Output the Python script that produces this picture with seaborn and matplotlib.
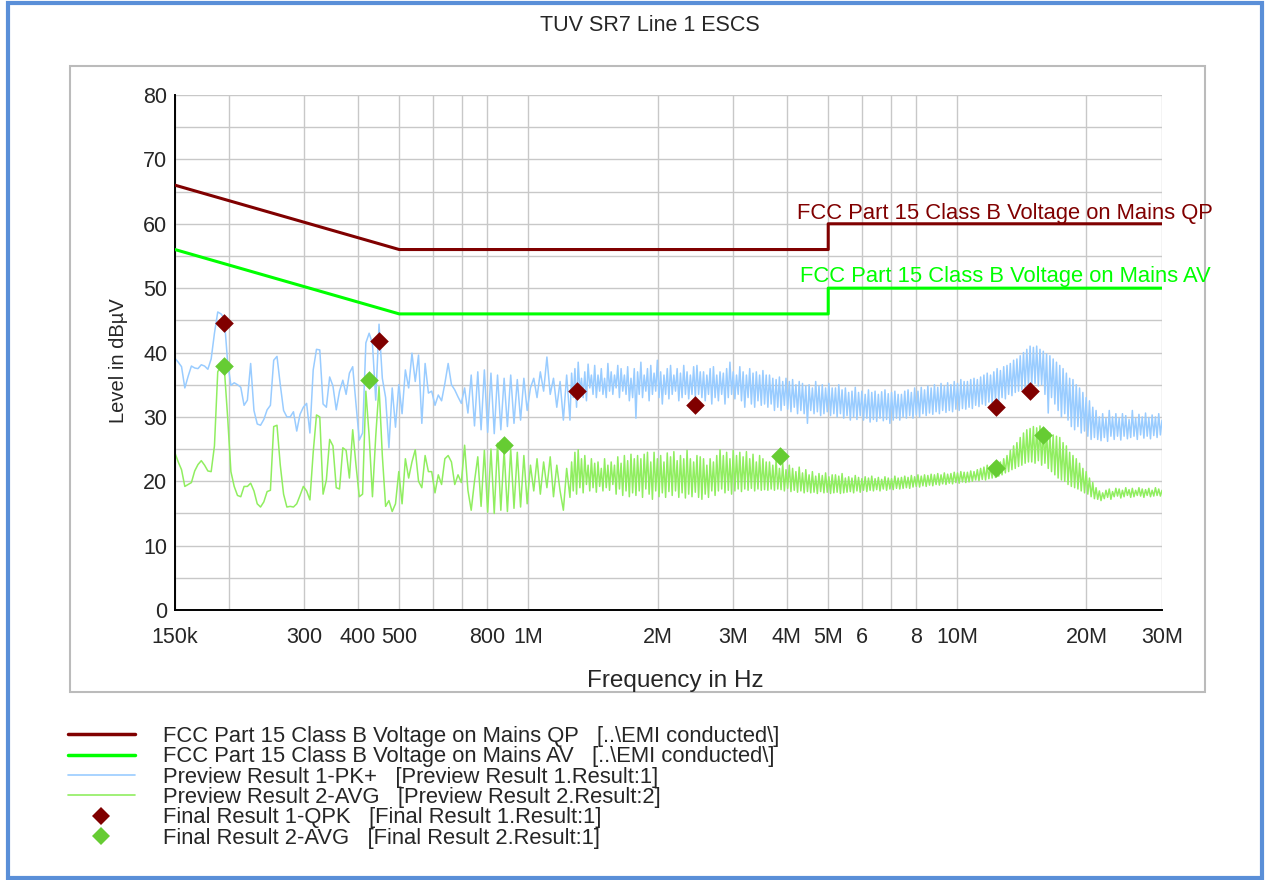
import numpy as np
import matplotlib
matplotlib.use("Agg")
import matplotlib.pyplot as plt
from matplotlib.lines import Line2D
from matplotlib.patches import Rectangle
import seaborn as sns

# limit lines (FCC Part 15 Class B, conducted)
limit_freq = [150e3, 500e3, 5e6, 5e6, 30e6]
limit_qp = [66, 56, 56, 60, 60]
limit_av = [56, 46, 46, 50, 50]

# final measurements
qpk_freq = [195e3, 448e3, 1.30e6, 2.44e6, 12.3e6, 14.8e6]
qpk_level = [44.6, 41.8, 34.1, 31.8, 31.6, 34.1]
avg_freq = [195e3, 424e3, 875e3, 3.85e6, 12.3e6, 15.8e6]
avg_level = [37.9, 35.7, 25.6, 23.9, 22.1, 27.2]

# preview scans: coarse sweep 150 kHz..1.25 MHz (120 pts), fine sweep 1.25..30 MHz (360 pts)
sweep_hz = np.concatenate([np.geomspace(150e3, 1.25e6, 120, endpoint=False),
                           np.geomspace(1.25e6, 30e6, 360)])

pk_low = [
    39.1, 38.5, 37.8, 34.5, 36.3, 37.9, 37.6, 37.5, 38.1, 37.9, 37.4, 39.0, 43.0, 46.3, 46.0, 45.3, 38.5, 34.9, 35.3, 35.0,
    34.6, 31.8, 32.6, 38.3, 31.0, 28.9, 28.7, 29.6, 31.1, 31.8, 38.8, 39.4, 35.0, 31.0, 30.0, 30.0, 30.8, 27.8, 30.4, 31.5,
    32.1, 27.5, 37.3, 40.5, 40.4, 32.0, 31.5, 36.2, 34.8, 31.1, 34.0, 35.7, 33.5, 36.8, 37.8, 32.0, 26.4, 27.5, 41.5, 43.0,
    41.4, 32.6, 44.4, 36.0, 33.0, 25.2, 34.5, 28.4, 35.0, 30.5, 37.3, 34.5, 39.9, 35.5, 39.6, 29.0, 38.3, 33.7, 34.0, 31.8,
    33.4, 32.5, 35.2, 38.3, 35.0, 34.2, 33.1, 32.1, 34.5, 30.6, 36.5, 28.6, 37.0, 28.0, 37.3, 27.6, 36.8, 27.4, 36.5, 28.0,
    36.0, 28.5, 36.5, 29.0, 35.8, 29.5, 36.0, 31.0, 34.5, 36.0, 33.0, 37.0, 34.0, 39.3, 33.5, 36.0, 31.5, 35.5, 29.5, 36.5,
]
pk_high = [
    29.5, 36.8, 33.0, 37.5, 31.5, 38.5, 34.0, 36.0, 33.0, 37.0, 32.5, 38.2, 34.5, 36.5, 33.5, 38.0, 33.0, 36.5, 34.0, 37.5,
    33.5, 36.0, 33.0, 38.3, 34.0, 37.0, 33.5, 36.5, 34.5, 38.0, 33.0, 37.5, 34.0, 36.5, 33.5, 37.8, 32.5, 36.0, 33.0, 37.5,
    29.8, 37.0, 33.5, 38.5, 33.0, 36.5, 34.0, 37.5, 32.5, 38.0, 33.5, 36.8, 34.0, 38.8, 33.0, 37.0, 32.0, 36.5, 33.5, 37.5,
    32.8, 38.0, 33.5, 36.5, 34.0, 37.5, 32.5, 36.8, 33.0, 38.0, 33.5, 37.0, 32.8, 36.5, 33.5, 37.8, 33.0, 38.0, 33.5, 37.0,
    33.0, 37.0, 32.5, 36.5, 33.5, 37.5, 32.0, 37.8, 33.0, 36.5, 32.5, 37.0, 33.5, 36.8, 32.0, 37.5, 33.0, 38.5, 33.5, 37.0,
    32.8, 36.5, 33.5, 37.8, 32.5, 37.0, 31.5, 36.5, 33.0, 37.5, 32.0, 36.8, 31.5, 37.0, 32.5, 36.5, 31.8, 37.2, 32.0, 36.5,
    31.5, 36.5, 32.0, 36.0, 31.0, 35.8, 31.5, 36.2, 31.0, 35.5, 31.8, 36.0, 31.2, 35.5, 30.8, 35.8, 31.5, 35.0, 30.5, 35.5,
    31.0, 35.2, 30.5, 34.8, 29.0, 35.0, 31.0, 34.5, 30.5, 35.5, 30.8, 34.8, 30.2, 35.0, 30.5, 34.5, 30.8, 35.2, 30.2, 34.5,
    30.5, 34.5, 30.0, 35.0, 30.5, 34.2, 29.8, 34.5, 30.2, 33.8, 29.5, 34.0, 30.0, 34.6, 29.6, 33.8, 30.2, 34.0, 29.5, 33.5,
    29.8, 34.2, 29.2, 33.8, 29.6, 34.0, 29.3, 33.5, 29.8, 33.9, 29.4, 34.2, 29.6, 33.6, 29.0, 33.8, 29.5, 34.0, 29.8, 33.5,
    29.5, 33.5, 30.0, 34.0, 29.8, 34.2, 30.2, 33.8, 29.8, 34.5, 30.3, 34.0, 30.0, 34.6, 30.5, 34.2, 30.2, 34.8, 30.6, 34.5,
    30.4, 35.0, 30.8, 34.6, 30.5, 35.2, 31.0, 34.8, 30.7, 35.3, 31.0, 35.0, 30.8, 35.5, 31.2, 35.2, 31.0, 35.8, 31.3, 35.5,
    31.2, 35.5, 31.5, 35.8, 31.3, 36.0, 31.8, 35.8, 31.6, 36.2, 32.0, 36.5, 31.8, 36.8, 32.3, 36.5, 32.2, 37.0, 32.6, 37.5,
    32.5, 37.2, 33.0, 37.8, 32.8, 38.0, 33.5, 38.3, 33.3, 38.8, 33.8, 39.0, 34.0, 39.5, 34.2, 40.0, 34.5, 40.5, 34.8, 41.0,
    35.0, 40.8, 35.2, 41.0, 34.8, 40.5, 35.0, 40.2, 33.5, 39.8, 30.6, 39.5, 33.0, 39.0, 32.0, 38.5, 31.0, 38.0, 30.0, 37.5,
    30.5, 36.8, 29.5, 36.0, 28.5, 35.8, 28.0, 35.0, 28.5, 34.5, 27.5, 33.8, 27.8, 33.0, 27.0, 32.5, 26.5, 31.5, 26.8, 31.0,
    26.5, 30.0, 26.3, 30.5, 26.8, 29.8, 26.2, 31.0, 27.0, 30.0, 26.5, 30.5, 27.0, 29.8, 26.4, 30.5, 27.0, 30.2, 26.6, 29.6,
    26.8, 31.0, 27.0, 29.8, 26.5, 30.4, 27.2, 30.0, 26.7, 30.6, 27.0, 29.9, 26.6, 30.3, 27.1, 30.0, 26.8, 30.5, 27.2, 29.5,
]
avg_low = [
    24.4, 23.0, 21.8, 19.2, 19.5, 19.8, 21.6, 22.6, 23.2, 22.5, 21.6, 21.5, 25.5, 37.0, 38.0, 37.5, 30.0, 21.5, 19.2, 17.8,
    17.6, 19.2, 19.2, 19.7, 18.5, 16.5, 16.0, 16.8, 18.4, 18.6, 28.5, 28.7, 22.5, 18.0, 16.0, 16.1, 16.0, 16.5, 17.8, 19.2,
    18.5, 17.1, 24.5, 30.3, 30.0, 18.0, 20.2, 26.5, 25.5, 19.0, 18.8, 25.2, 24.8, 20.5, 28.0, 22.5, 17.6, 18.0, 34.0, 27.0,
    17.6, 27.0, 34.7, 24.0, 16.1, 17.0, 15.3, 16.5, 21.5, 16.5, 23.5, 20.5, 23.0, 24.9, 20.0, 19.0, 24.0, 21.5, 21.5, 18.2,
    21.0, 19.5, 23.5, 24.0, 23.0, 19.5, 21.0, 19.8, 25.6, 18.6, 15.5, 20.0, 23.8, 16.1, 24.8, 15.2, 25.0, 15.0, 25.9, 15.5,
    24.8, 15.3, 25.0, 15.8, 24.5, 16.0, 24.0, 16.5, 22.5, 18.5, 23.5, 18.0, 23.0, 19.0, 23.8, 17.6, 22.5, 18.5, 15.5, 22.0,
]
avg_high = [
    17.5, 23.0, 18.5, 24.5, 18.0, 24.9, 19.0, 23.5, 18.2, 24.0, 19.5, 22.5, 18.5, 23.5, 19.0, 22.8, 18.3, 23.0, 19.2, 22.0,
    18.5, 23.5, 19.0, 22.5, 18.6, 23.0, 19.5, 22.5, 18.0, 23.8, 18.8, 22.8, 17.8, 24.0, 18.5, 23.2, 17.6, 24.2, 18.2, 23.5,
    17.8, 24.0, 18.5, 23.5, 17.5, 24.2, 18.8, 24.5, 18.0, 23.0, 17.2, 24.5, 18.5, 23.5, 17.6, 24.0, 18.2, 23.0, 17.5, 24.4,
    18.4, 23.8, 17.8, 24.6, 18.5, 23.2, 17.5, 24.0, 18.2, 23.5, 17.4, 24.8, 18.0, 23.5, 17.6, 23.0, 18.3, 24.0, 17.5, 23.8,
    17.2, 23.5, 18.0, 22.5, 17.5, 23.5, 18.5, 23.0, 17.8, 24.0, 18.5, 24.9, 18.8, 24.0, 18.2, 24.5, 18.6, 23.5, 18.0, 24.8,
    18.5, 24.0, 18.8, 24.5, 18.4, 23.8, 18.8, 24.6, 18.6, 23.5, 18.9, 24.2, 18.5, 23.0, 18.8, 24.0, 18.6, 23.5, 18.7, 23.0,
    18.6, 23.0, 18.8, 22.5, 18.6, 23.3, 18.8, 22.0, 18.7, 22.8, 18.5, 21.8, 18.9, 22.5, 18.4, 22.0, 18.6, 21.5, 18.3, 22.2,
    18.5, 21.3, 18.2, 21.8, 18.4, 21.0, 18.2, 21.5, 18.3, 20.8, 18.1, 21.2, 18.4, 20.9, 18.2, 21.3, 18.3, 20.7, 18.1, 21.0,
    18.2, 21.0, 18.3, 20.8, 18.1, 21.2, 18.2, 20.5, 18.3, 20.7, 18.4, 20.5, 18.2, 20.9, 18.5, 20.6, 18.3, 20.4, 18.6, 20.7,
    18.4, 20.5, 18.6, 20.8, 18.5, 20.4, 18.7, 20.6, 18.5, 20.3, 18.8, 20.7, 18.6, 20.5, 18.8, 20.4, 18.7, 20.8, 18.9, 20.5,
    18.8, 20.6, 18.9, 20.8, 19.0, 20.6, 18.9, 20.9, 19.1, 20.7, 19.2, 21.0, 19.1, 20.8, 19.3, 21.0, 19.2, 20.9, 19.4, 21.1,
    19.3, 21.0, 19.5, 21.2, 19.4, 21.0, 19.6, 21.3, 19.5, 21.1, 19.7, 21.2, 19.6, 21.4, 19.8, 21.3, 19.7, 21.5, 19.9, 21.4,
    19.8, 21.4, 19.9, 21.6, 20.0, 21.5, 20.2, 21.8, 20.1, 22.0, 20.3, 22.2, 20.2, 22.5, 20.4, 22.3, 20.5, 22.8, 20.6, 22.6,
    20.8, 23.0, 21.0, 23.5, 21.3, 24.0, 21.5, 24.8, 21.8, 25.5, 22.0, 26.0, 22.3, 26.8, 22.5, 27.5, 22.8, 28.0, 23.0, 28.2,
    23.0, 28.5, 22.8, 28.3, 23.2, 28.6, 22.5, 28.0, 22.8, 27.8, 22.0, 27.5, 21.5, 27.2, 21.0, 27.0, 20.5, 26.8, 20.2, 26.0,
    20.0, 25.5, 19.5, 24.5, 19.2, 24.0, 19.0, 23.5, 18.8, 22.8, 18.5, 22.0, 18.2, 21.5, 18.0, 20.5, 17.6, 19.8, 17.3, 19.0,
    17.2, 18.5, 17.0, 18.2, 17.3, 18.6, 17.5, 18.8, 17.2, 18.4, 17.6, 18.9, 17.7, 18.8, 17.4, 18.6, 17.6, 19.0, 17.8, 18.7,
    17.5, 18.9, 17.6, 18.6, 17.8, 19.0, 17.7, 18.8, 17.5, 18.7, 17.8, 18.9, 17.6, 18.6, 17.7, 19.0, 17.8, 18.8, 17.7, 18.6,
]
preview_pk = pk_low + pk_high
preview_avg = avg_low + avg_high

x_ticks = [150e3, 200e3, 300e3, 400e3, 500e3, 600e3, 700e3, 800e3, 1e6,
           2e6, 3e6, 4e6, 5e6, 6e6, 7e6, 8e6, 10e6, 20e6, 30e6]
x_ticklabels = ['150k', '', '300', '400', '500', '', '', '800', '1M',
                '2M', '3M', '4M', '5M', '6', '', '8', '10M', '20M', '30M']

legend_labels = [
    'FCC Part 15 Class B Voltage on Mains QP   [..\\EMI conducted\\]',
    'FCC Part 15 Class B Voltage on Mains AV   [..\\EMI conducted\\]',
    'Preview Result 1-PK+   [Preview Result 1.Result:1]',
    'Preview Result 2-AVG   [Preview Result 2.Result:2]',
    'Final Result 1-QPK   [Final Result 1.Result:1]',
    'Final Result 2-AVG   [Final Result 2.Result:1]',
]

C_QP = '#800000'
C_AV = '#00FF00'
C_PK = '#99CCFF'
C_PAVG = '#90EE60'
C_FAVG = '#66CC33'

sns.set_style('white')
plt.rcParams['font.family'] = ['Liberation Sans', 'DejaVu Sans']

fig = plt.figure(figsize=(12.65, 8.8), dpi=100)
ax = fig.add_axes([0.1383, 0.3068, 0.7803, 0.5852])

sns.lineplot(x=sweep_hz, y=preview_pk, ax=ax, color=C_PK, lw=1.1,
             estimator=None, sort=False, legend=False, zorder=2)
sns.lineplot(x=sweep_hz, y=preview_avg, ax=ax, color=C_PAVG, lw=1.1,
             estimator=None, sort=False, legend=False, zorder=2)
sns.lineplot(x=limit_freq, y=limit_qp, ax=ax, color=C_QP, lw=2.2,
             estimator=None, sort=False, legend=False, zorder=3)
sns.lineplot(x=limit_freq, y=limit_av, ax=ax, color=C_AV, lw=2.2,
             estimator=None, sort=False, legend=False, zorder=3)
sns.scatterplot(x=qpk_freq, y=qpk_level, ax=ax, color=C_QP, marker='D',
                s=90, linewidth=0, zorder=4, legend=False)
sns.scatterplot(x=avg_freq, y=avg_level, ax=ax, color=C_FAVG, marker='D',
                s=90, linewidth=0, zorder=4, legend=False)

ax.set_xscale('log')
ax.set_xlim(150e3, 30e6)
ax.set_ylim(0, 80)
ax.set_xticks(x_ticks)
ax.set_xticklabels(x_ticklabels)
ax.xaxis.set_minor_locator(matplotlib.ticker.NullLocator())
ax.set_yticks(range(0, 81, 10))
ax.set_yticks(range(5, 80, 10), minor=True)
ax.grid(True, which='both', color='#C8C8C8', lw=1.0, zorder=0)
ax.set_axisbelow(True)
ax.tick_params(axis='both', which='both', direction='inout', length=9,
               width=1.2, color='black', labelsize=15.5)
ax.tick_params(axis='x', pad=7.5)
ax.tick_params(axis='y', pad=1)
for side in ['top', 'right']:
    ax.spines[side].set_visible(False)
for side in ['left', 'bottom']:
    ax.spines[side].set_color('black')
    ax.spines[side].set_linewidth(1.4)

ax.set_xlabel('Frequency in Hz', fontsize=17.5, labelpad=16)
ax.set_ylabel('Level in dBµV', fontsize=14.5, labelpad=11)
ax.xaxis.label.set_x(0.507)
ax.yaxis.label.set_y(0.484)

ax.text(4.22e6, 61.6, 'FCC Part 15 Class B Voltage on Mains QP', color=C_QP,
        fontsize=15.8, va='center', ha='left', clip_on=False, zorder=6)
ax.text(4.3e6, 51.8, 'FCC Part 15 Class B Voltage on Mains AV', color=C_AV,
        fontsize=15.8, va='center', ha='left', clip_on=False, zorder=6)

fig.text(0.514, 0.971, 'TUV SR7 Line 1 ESCS', ha='center', va='center',
         fontsize=15.5)

# frames
fig.add_artist(Rectangle((70 / 1265, 1 - 692 / 880), 1135 / 1265, 626 / 880,
                         transform=fig.transFigure, fill=False,
                         edgecolor='#BBBBBB', lw=1.5, zorder=0))
fig.add_artist(Rectangle((8 / 1265, 2 / 880), 1254 / 1265, 875 / 880,
                         transform=fig.transFigure, fill=False,
                         edgecolor='#5A8FD8', lw=3.0))

handles = [
    Line2D([], [], color=C_QP, lw=2.5),
    Line2D([], [], color=C_AV, lw=2.5),
    Line2D([], [], color=C_PK, lw=1.2),
    Line2D([], [], color=C_PAVG, lw=1.2),
    Line2D([], [], color=C_QP, marker='D', ls='none', ms=9, mew=0),
    Line2D([], [], color=C_FAVG, marker='D', ls='none', ms=9, mew=0),
]
fig.legend(handles, legend_labels, loc='upper left',
           bbox_to_anchor=(68 / 1265, 1 - 726 / 880), frameon=False,
           prop={'family': ['Liberation Sans'], 'size': 15.8},
           handlelength=3.05, handletextpad=1.27, labelspacing=-0.03,
           borderpad=0, borderaxespad=0)

fig.savefig('out.png', dpi=100)
